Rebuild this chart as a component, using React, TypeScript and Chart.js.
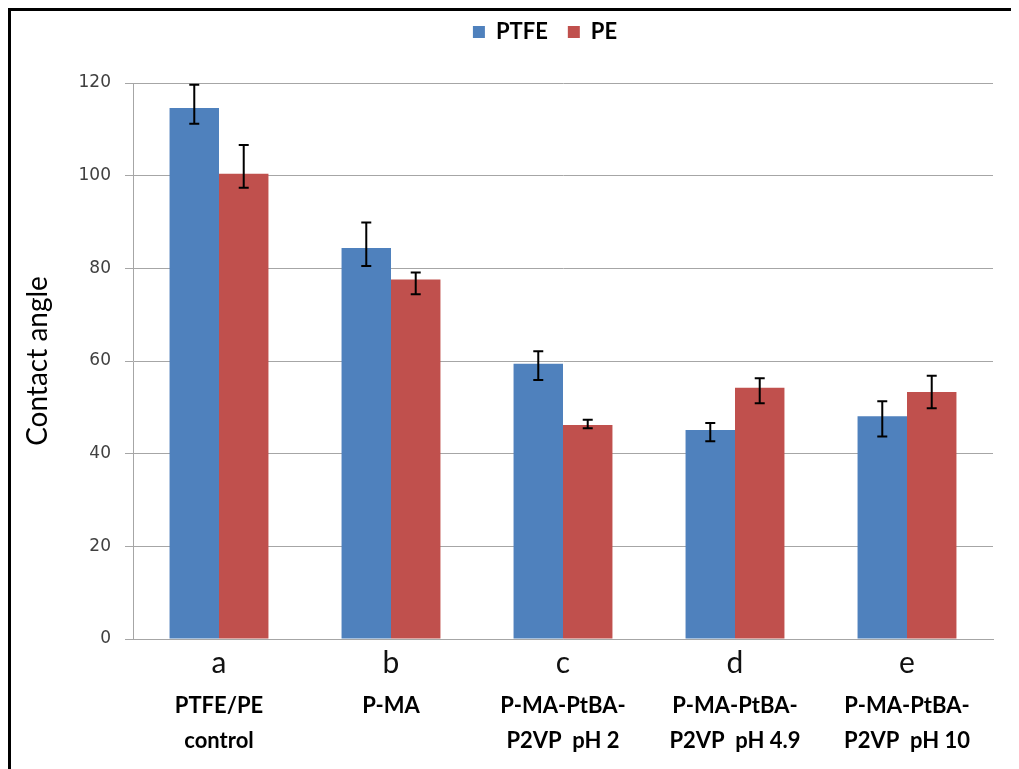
import React, { useEffect, useRef } from "react";
import { Chart, registerables } from "chart.js";

Chart.register(...registerables);

const letters = ["a", "b", "c", "d", "e"];
const subLabels = [
  ["PTFE/PE", "control"],
  ["P-MA", ""],
  ["P-MA-PtBA-", "P2VP  pH 2"],
  ["P-MA-PtBA-", "P2VP  pH 4.9"],
  ["P-MA-PtBA-", "P2VP  pH 10"],
];
const ptfeValues = [114.6, 84.4, 59.4, 45.1, 48.1];
const ptfeErrPlus = [5.0, 5.5, 2.7, 1.5, 3.2];
const ptfeErrMinus = [3.4, 3.9, 3.5, 2.4, 4.4];
const peValues = [100.4, 77.6, 46.2, 54.2, 53.3];
const peErrPlus = [6.2, 1.5, 1.1, 2.1, 3.5];
const peErrMinus = [3.0, 3.2, 0.7, 3.3, 3.5];
const yTicks = [0, 20, 40, 60, 80, 100, 120];

const errorBarPlugin = {
  id: "errorBars",
  afterDatasetsDraw(chart: any) {
    const ctx = chart.ctx;
    const y = chart.scales.y;
    const plus = [ptfeErrPlus, peErrPlus];
    const minus = [ptfeErrMinus, peErrMinus];
    ctx.save();
    ctx.strokeStyle = "#000";
    ctx.lineWidth = 2;
    chart.data.datasets.forEach((ds: any, di: number) => {
      const meta = chart.getDatasetMeta(di);
      meta.data.forEach((el: any, i: number) => {
        const v = ds.data[i];
        const x = el.x;
        const top = y.getPixelForValue(v + plus[di][i]);
        const bot = y.getPixelForValue(v - minus[di][i]);
        ctx.beginPath();
        ctx.moveTo(x, top);
        ctx.lineTo(x, bot);
        ctx.moveTo(x - 5, top);
        ctx.lineTo(x + 5, top);
        ctx.moveTo(x - 5, bot);
        ctx.lineTo(x + 5, bot);
        ctx.stroke();
      });
    });
    ctx.restore();
  },
};

const legendShiftPlugin = {
  id: "legendShift",
  afterLayout(chart: any) {
    const lg = chart.legend;
    if (!lg) return;
    const target = (chart.chartArea.left + chart.chartArea.right) / 2 - 18;
    const d = target - (lg.left + lg.right) / 2;
    lg.left += d;
    lg.right += d;
    const dy = -30;
    lg.top += dy;
    lg.bottom += dy;
  },
};

export default function App() {
  const ref = useRef<HTMLCanvasElement | null>(null);
  useEffect(() => {
    if (!ref.current) return;
    const chart = new Chart(ref.current, {
      type: "bar",
      data: {
        labels: letters,
        datasets: [
          {
            label: "PTFE",
            data: ptfeValues,
            backgroundColor: "#4F81BD",
            xAxisID: "x",
          },
          {
            label: "PE",
            data: peValues,
            backgroundColor: "#C0504D",
            xAxisID: "x",
          },
        ],
      },
      options: {
        animation: false,
        responsive: false,
        maintainAspectRatio: false,
        layout: { padding: { left: 10, right: 26, top: 20, bottom: 0 } },
        datasets: {
          bar: { categoryPercentage: 0.575, barPercentage: 1 },
        },
        plugins: {
          legend: {
            position: "top",
            labels: {
              boxWidth: 12,
              boxHeight: 12,
              padding: 20,
              color: "#000",
              font: { family: "Lato", size: 22, weight: "bold" },
            },
          },
          tooltip: { enabled: false },
        },
        scales: {
          x: {
            type: "category",
            position: "bottom",
            weight: 0,
            grid: { display: false, drawTicks: false },
            border: { display: true, color: "#A6A6A6" },
            ticks: {
              padding: 6,
              color: "#111",
              font: { family: "Lato", size: 30 },
            },
            afterFit: (s: any) => {
              s.height = 45;
            },
          },
          x2: {
            type: "category",
            labels: subLabels as any,
            position: "bottom",
            weight: 1,
            grid: { display: false, drawTicks: false },
            border: { display: false },
            ticks: {
              padding: 4,
              color: "#000",
              font: { family: "Lato", size: 22, weight: "bold", lineHeight: 1.6 },
            },
            afterFit: (s: any) => {
              s.height = 85;
            },
          },
          y: {
            min: 0,
            max: 120,
            afterBuildTicks: (s: any) => {
              s.ticks = yTicks.map((v) => ({ value: v }));
            },
            grid: {
              color: "#A6A6A6",
              lineWidth: 1,
              tickLength: 8,
            },
            border: { display: true, color: "#A6A6A6" },
            ticks: {
              padding: 14,
              color: "#404040",
              font: { family: "DejaVu Sans", size: 17 },
            },
            title: {
              display: true,
              text: "Contact angle",
              color: "#000",
              padding: { top: 0, bottom: 8 },
              font: { family: "Lato", size: 28 },
            },
            afterFit: (s: any) => {
              s.width = 112;
            },
          },
        },
      },
      plugins: [errorBarPlugin, legendShiftPlugin],
    });
    return () => chart.destroy();
  }, []);

  return (
    <div
      style={{
        width: 1008,
        height: 758,
        borderTop: "3px solid #000",
        borderLeft: "3px solid #000",
        background: "#fff",
        overflow: "hidden",
      }}
    >
      <canvas ref={ref} width={1008} height={758} style={{ display: "block" }} />
    </div>
  );
}
